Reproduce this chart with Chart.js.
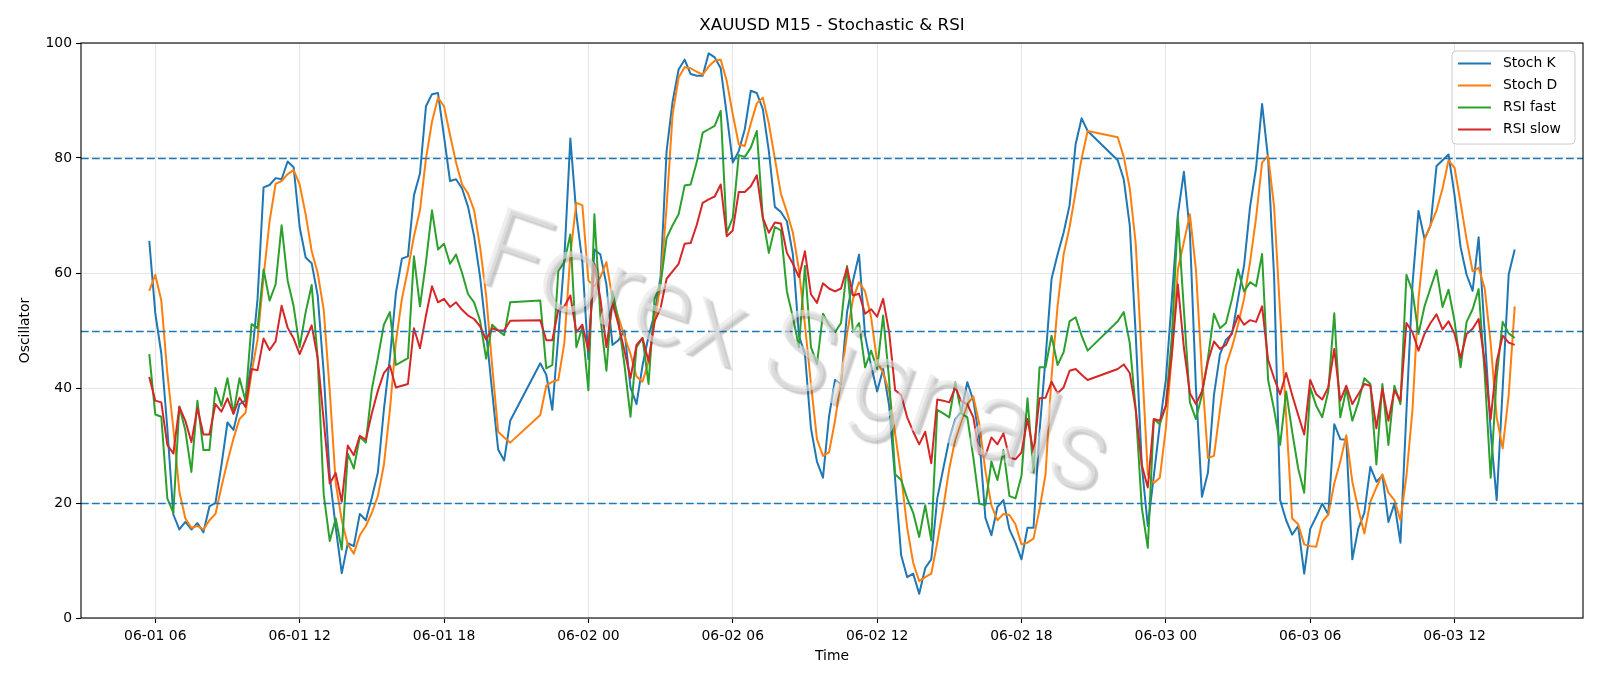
<!DOCTYPE html>
<html>
<head>
<meta charset="utf-8">
<script src="https://cdn.jsdelivr.net/npm/chart.js@4.4.1/dist/chart.umd.min.js"></script>
<style>
html,body{margin:0;padding:0;background:#ffffff;}
canvas{display:block;}
</style>
</head>
<body>
<canvas id="c" width="1600" height="686" style="width:1600px;height:686px"></canvas>
<script>
// ---- data ----
// trading sessions (hours from 06-01 00:00), 15-minute bars
const sessions = [[5.75, 20.75], [22.0, 44.75], [46.0, 62.5]];
const barHours = 0.25;

const tickHours = [6, 12, 18, 24, 30, 36, 42, 48, 54, 60];
const tickLabels = ['06-01 06','06-01 12','06-01 18','06-02 00','06-02 06','06-02 12','06-02 18','06-03 00','06-03 06','06-03 12'];

const refLevels = [20, 50, 80];

const stochK = [
65.6,53,46,33,18,15.4,16.7,15.4,16.5,14.9,19.4,20,26.6,34,32.7,37.2,37.8,44.6,55.5,74.9,
75.3,76.5,76.3,79.4,78.4,68,62.7,61.7,56.1,42.6,24.7,15.7,7.8,13,12.5,18.1,17,20.9,25.3,36.2,
45.2,56.5,
62.5,62.9,73.5,77.3,89,91.1,91.3,83.7,76,76.3,74.7,71.5,66.4,59.3,49.7,39.4,29.3,27.4,34.3,
44.3,42.3,36.2,49,62.5,83.4,70.2,61.9,45,64.1,63.2,58,47.5,48.3,50,40.1,37.2,43.9,
49,52.9,59.3,81.2,89.8,95.4,97.1,94.6,94.3,94.3,98.2,97.5,95.6,87.6,79.2,81.2,85,91.7,91.3,88.5,
81.2,71.5,70.6,69,63.2,49.1,45.9,33,27.2,24.4,35,41.4,40.7,53.2,58.7,63.2,49.1,43.9,39.4,43.3,
36.9,24,
10.9,7.1,7.7,4.2,8.7,10.2,20.8,26,31.1,34.6,35.9,41,37.8,31.1,17.4,14.4,19.3,20.5,15.4,13.1,
10.2,15.7,15.7,32.4,45.2,59,63.2,67,71.8,82.4,86.9,84.7,
79.6,76.3,68.3,49.1,26.6,
16,24.7,33.7,41.4,55.5,70.2,77.6,67,40.1,21.1,25.3,38.8,45.9,48.4,49.4,55.5,61.3,71.5,78.3,89.4,
79.9,59.3,20.5,17,14.5,16,7.7,15.5,17.6,19.9,18,33.7,31.1,31,10.2,15.6,18.3,26.3,23.7,24.8,
16.7,19.9,
13.1,36,58,70.8,65.9,68.3,78.6,79.6,80.6,73.5,64.5,59.7,56.9,66.2,49.7,32.4,20.5,40,59.8,64.1
];

const stochD = [
56.9,59.7,55.2,42.6,33,22,17.3,15.7,16,15.4,17,18.1,22.8,27.2,31.2,34.6,35.7,42.6,48.4,59.3,
69,75.5,76,77.2,77.9,75.4,70.2,63.8,60,53.6,39.5,23.4,17,12.8,11.2,14.4,16,18.3,21.2,26.6,
36.2,48,
55.5,60.6,66.4,70.9,79.9,86.3,90.5,89,84,79.2,75.4,73.8,70.9,64.5,56.1,43.9,32.4,31.4,30.5,
35.3,40.4,41.1,41.4,47.8,63.2,72.2,71.8,58.7,57.7,59.3,61.9,55.5,52.3,49,45.9,42,41.1,
44.6,51.6,58,71.5,87.6,94,95.8,95.6,95,94.5,95.9,96.9,97.1,93.4,87.6,82.4,82.1,86,89.5,90.5,
86,79.9,73.8,70.6,67,60.6,51,40.7,31.1,28.2,28.8,34.3,41.4,49.4,55.5,58.4,56.8,52.3,44.6,42.6,
39.4,32,
24.7,15.7,9.6,6.4,7.1,7.7,13.1,19.2,26,31.1,34.3,37.2,38.5,33.7,25.6,19.6,17,18.1,17.9,16.3,
12.8,13.1,13.8,18.9,25,42,54.2,63.2,68,74.1,79.9,84.7,
83.6,80.2,74.7,65,45,
25,23.5,24.4,33,45.9,60.6,65.4,70.2,60.6,42.6,27.8,28.2,36.2,43.9,47.1,51,55.5,61.9,69.6,79.2,
80.4,71.5,53,35,17.3,16.3,12.8,12.5,12.4,16.7,18,23.4,27.2,31.8,23.7,18.9,14.7,20.2,22.7,25,
21.8,20.5,
17,24.7,36.2,55.5,65.8,68.3,70.9,74.7,79.6,78.3,72.2,65.8,60.3,60.9,57.4,47.8,34.9,29.5,38.8,54.2
];

const rsiFast = [
45.9,35.4,35,20.8,18.3,36.8,32.6,25.4,37.8,29.2,29.2,40,36.9,41.7,35.6,41.7,37.8,51.1,50.4,60.6,
55.2,58,68.3,58.7,54.2,47.1,53.2,57.9,45,21.5,13.4,17.3,11.9,28.6,26,31.5,30.5,39.8,45.2,51,
53.2,44,
44.6,45.2,62.9,54.2,61.9,70.9,64.1,65.1,61.6,63.2,60,56.3,54.9,51.7,45.1,51,50,49.2,54.9,
55.2,43.4,44,60.3,61.9,66.7,47.1,50.6,39.6,70.2,52.3,43,56.8,51.7,44,35,47.1,48.7,
40.7,55.5,58,66.1,68.3,70.2,75.2,75.4,79.2,84.4,85,85.6,88.2,67,69.6,80.5,80.2,81.8,84.7,69.6,
63.5,68,67.4,56.8,52.3,47.1,61.2,47.1,44.2,52.9,51,49.7,51.3,61.2,49.7,51.3,43.6,46.5,43.3,52.6,
41.4,25,
24,20.8,18.3,14.1,19.6,13.5,36.2,35.6,34.9,41,35.6,34.9,27.9,19.9,19.6,27.2,24,29.2,21.2,20.8,
24.7,38.2,25.3,43.6,43.6,49.1,44,46.2,51.6,52.3,49.1,46.5,
51.6,53.2,47.8,36.2,19.2,
12.2,34.6,33.7,36.9,49,69.7,53.6,37.5,34.6,38.8,45.2,52.9,50.4,51.3,55.5,60.6,56.8,58.4,57.7,63.3,
41.4,36.2,30.1,39.4,32.4,26,21.8,40.1,36.9,34.9,39.4,53,34.9,39.8,34.3,37.5,41.7,40.7,26.7,40.7,
30.1,40.4,
37.2,59.7,56.8,49.4,54.2,57.4,60.5,54.1,57.1,51.6,43.6,51.5,53.7,57.2,42.6,24.4,42,51.5,49.5,48.7
];

const rsiSlow = [
41.9,37.8,37.5,30.1,28.6,36.7,34.3,30.6,36.5,31.9,31.9,37.2,35.9,38.2,35.5,38.3,36.7,43.3,43.1,48.6,
46.6,48.1,54.3,50.5,48.6,45.9,48.4,50.9,45.2,34.3,23.4,25.2,20.2,30,28.3,31.7,31,35.6,39.5,42.6,
43.9,40.1,
40.4,40.7,50.4,46.9,52.6,57.7,54.9,55.5,54.1,54.9,53.6,52.6,52,50.7,48.4,50.4,50,50,51.7,
51.8,48.3,48.3,53.6,54.2,56.1,49.7,51,46.5,61.6,55.5,47.1,54.9,51,46.5,41.7,47.5,48.7,
44.6,51.6,53.9,59,60.3,61.6,65.1,65.2,68.3,72.2,72.8,73.3,75.4,66.4,67.4,74.1,74.1,75.1,77,69.6,
67,68.8,68.6,63.5,61.6,59.3,63.8,56.3,54.8,58.2,57.3,56.8,57.3,60.9,56.1,56.4,52.9,53.7,52.4,55.5,
49.7,39.6,
38.8,34.9,32.4,30.2,32.4,26.9,38,37.8,37.5,40.1,37.7,37.2,34.9,28.5,28.2,31.4,30.2,32.1,27.9,27.6,
28.8,34.6,28.8,38.2,38.3,41.1,39.1,40.1,43,43.3,42.3,41.4,
43.3,44.1,42.6,36.2,26.6,
22.7,34.6,34.3,36.9,45.9,58,47,39.1,37.2,39.4,44.6,48.1,46.8,47.5,49.7,52.6,51,51.8,51.5,54.2,
44.9,41.7,38.9,42.6,38.8,35.3,31.9,41.4,38.9,38,40.1,46.8,37.8,40.4,37.2,38.9,40.7,40.4,33,39.9,
34.3,39.6,
37.8,51.3,49.7,46.5,49.4,51.3,52.8,50.2,51.6,49.4,45.2,49.4,50.3,52,44.6,34.6,44.6,49.1,47.9,47.5
];

const seriesNames = ['Stoch K', 'Stoch D', 'RSI fast', 'RSI slow'];
const seriesColors = ['#1f77b4', '#ff7f0e', '#2ca02c', '#d62728'];

// ---- build time axis from sessions ----
const times = [];
sessions.forEach(([a, b]) => {
  for (let t = a; t <= b + 1e-9; t += barHours) times.push(Math.round(t * 100) / 100);
});

const FONT = "'DejaVu Sans', 'Liberation Sans', sans-serif";
Chart.defaults.font.family = FONT;
Chart.defaults.color = '#000';

const seriesValues = [stochK, stochD, rsiFast, rsiSlow];
const datasets = seriesValues.map((vals, si) => ({
  label: seriesNames[si],
  data: times.map((t, i) => ({ x: t, y: vals[i] })),
  borderColor: seriesColors[si],
  backgroundColor: seriesColors[si],
  borderWidth: 2,
  pointRadius: 0,
  tension: 0,
  fill: false,
  borderJoinStyle: 'round',
  order: 3 - si
}));

const overlay = {
  id: 'overlay',
  afterDatasetsDraw(chart) {
    const { ctx, chartArea: a, scales: { y } } = chart;
    ctx.save();
    ctx.beginPath();
    ctx.rect(a.left, a.top, a.right - a.left, a.bottom - a.top);
    ctx.clip();
    ctx.strokeStyle = '#1f77b4';
    ctx.lineWidth = 1.4;
    ctx.setLineDash([7.7, 3.3]);
    refLevels.forEach(v => {
      const py = Math.round(y.getPixelForValue(v)) + 0.5;
      ctx.beginPath();
      ctx.moveTo(a.left, py);
      ctx.lineTo(a.right, py);
      ctx.stroke();
    });
    ctx.restore();
  },
  afterDraw(chart) {
    const { ctx, chartArea: a } = chart;
    ctx.save();
    // watermark
    ctx.save();
    ctx.beginPath();
    ctx.rect(a.left, a.top, a.right - a.left, a.bottom - a.top);
    ctx.clip();
    ctx.translate(793, 360);
    ctx.rotate(19 * Math.PI / 180);
    ctx.font = "300 112px Roboto, 'DejaVu Sans', sans-serif";
    ctx.textAlign = 'center';
    ctx.textBaseline = 'middle';
    ctx.shadowColor = 'rgba(60,60,60,0.45)';
    ctx.shadowOffsetX = 3;
    ctx.shadowOffsetY = 3;
    ctx.shadowBlur = 1.5;
    ctx.fillStyle = 'rgba(228,228,228,0.6)';
    ctx.fillText('Forex Signals', 0, 0);
    ctx.restore();
    // spines
    ctx.strokeStyle = '#000';
    ctx.lineWidth = 1.1;
    ctx.strokeRect(a.left, a.top, a.right - a.left, a.bottom - a.top);
    // title
    ctx.fillStyle = '#000';
    ctx.textAlign = 'center';
    ctx.textBaseline = 'middle';
    ctx.font = '16.7px ' + FONT;
    ctx.fillText('XAUUSD M15 - Stochastic & RSI', (a.left + a.right) / 2, 26);
    // axis titles
    ctx.font = '13.9px ' + FONT;
    ctx.fillText('Time', (a.left + a.right) / 2, 656);
    ctx.save();
    ctx.translate(25, (a.top + a.bottom) / 2);
    ctx.rotate(-Math.PI / 2);
    ctx.fillText('Oscillator', 0, 0);
    ctx.restore();
    // legend
    const lx = 1452, ly = 51, lw = 123, lh = 93, r = 4;
    ctx.beginPath();
    ctx.moveTo(lx + r, ly);
    ctx.lineTo(lx + lw - r, ly);
    ctx.quadraticCurveTo(lx + lw, ly, lx + lw, ly + r);
    ctx.lineTo(lx + lw, ly + lh - r);
    ctx.quadraticCurveTo(lx + lw, ly + lh, lx + lw - r, ly + lh);
    ctx.lineTo(lx + r, ly + lh);
    ctx.quadraticCurveTo(lx, ly + lh, lx, ly + lh - r);
    ctx.lineTo(lx, ly + r);
    ctx.quadraticCurveTo(lx, ly, lx + r, ly);
    ctx.closePath();
    ctx.fillStyle = 'rgba(255,255,255,0.8)';
    ctx.fill();
    ctx.strokeStyle = '#cccccc';
    ctx.lineWidth = 1;
    ctx.stroke();
    ctx.textAlign = 'left';
    ctx.font = '13.9px ' + FONT;
    seriesNames.forEach((n, i) => {
      const yy = 63.5 + i * 22;
      ctx.strokeStyle = seriesColors[i];
      ctx.lineWidth = 2;
      ctx.beginPath();
      ctx.moveTo(1458, yy);
      ctx.lineTo(1491, yy);
      ctx.stroke();
      ctx.fillStyle = '#000';
      ctx.fillText(n, 1503, yy);
    });
    ctx.restore();
  }
};

new Chart(document.getElementById('c'), {
  type: 'line',
  data: { datasets },
  options: {
    responsive: false,
    animation: false,
    devicePixelRatio: 1,
    layout: { padding: { left: 0, right: 17, top: 43, bottom: 0 } },
    plugins: { legend: { display: false }, title: { display: false }, tooltip: { enabled: false } },
    scales: {
      x: {
        type: 'linear',
        min: 2.9125,
        max: 65.3375,
        afterBuildTicks: (axis) => { axis.ticks = tickHours.map(v => ({ value: v })); },
        afterFit: (axis) => { axis.height = 68; },
        ticks: {
          autoSkip: false, maxRotation: 0, minRotation: 0, padding: 5,
          font: { size: 13.9 }, color: '#000',
          callback: (v) => { const k = tickHours.indexOf(v); return k >= 0 ? tickLabels[k] : ''; }
        },
        grid: { color: '#e6e6e6', lineWidth: 1, tickLength: 5, tickColor: '#000', tickWidth: 1.1 },
        border: { display: false }
      },
      y: {
        min: 0, max: 100,
        afterFit: (axis) => { axis.width = 81; },
        ticks: { stepSize: 20, padding: 4, font: { size: 13.9 }, color: '#000' },
        grid: { color: '#e6e6e6', lineWidth: 1, tickLength: 5, tickColor: '#000', tickWidth: 1.1 },
        border: { display: false }
      }
    }
  },
  plugins: [overlay]
});
</script>
</body>
</html>
